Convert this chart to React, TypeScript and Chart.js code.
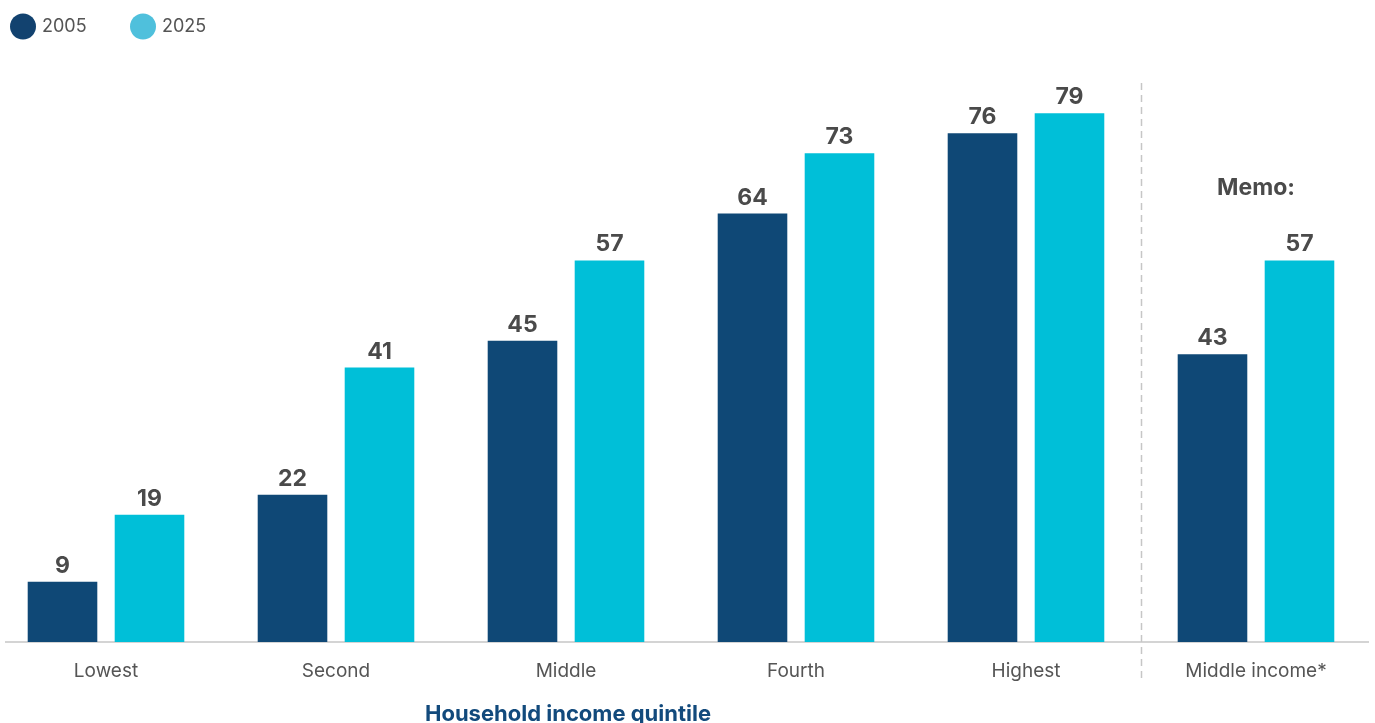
import React, { useEffect, useRef } from "react";
import { Chart, registerables } from "chart.js";

Chart.register(...registerables);

const categories = ["Lowest", "Second", "Middle", "Fourth", "Highest", "Middle income*"];
const seriesNames = ["2005", "2025"];
const values2005 = [9, 22, 45, 64, 76, 43];
const values2025 = [19, 41, 57, 73, 79, 57];
const xAxisTitle = "Household income quintile";
const memoLabel = "Memo:";
const memoIndex = 5;

const DARK = "#0f4876";
const LIGHT = "#00bfd8";
const LEGEND_COLORS = ["#12426f", "#4fc0dc"];
const FONT = "Inter, 'Open Sans', sans-serif";

export default function App() {
  const ref = useRef<HTMLCanvasElement | null>(null);

  useEffect(() => {
    document.body.style.margin = "0";
    const canvas = ref.current;
    if (!canvas) return;

    const overlay = {
      id: "overlay",
      beforeDatasetsDraw(chart: any) {
        const { ctx, scales } = chart;
        const xs = scales.x;
        const sx = Math.round(xs.getPixelForValue(memoIndex - 0.5)) + 0.5;
        ctx.save();
        ctx.strokeStyle = "#c6c6c6";
        ctx.lineWidth = 1.5;
        ctx.setLineDash([7, 5]);
        ctx.beginPath();
        ctx.moveTo(sx, 83);
        ctx.lineTo(sx, 680);
        ctx.stroke();
        ctx.restore();
      },
      afterDatasetsDraw(chart: any) {
        const { ctx, scales } = chart;
        const xs = scales.x;
        ctx.save();
        ctx.fillStyle = "#4a4a4a";
        ctx.font = `bold 23px ${FONT}`;
        ctx.textAlign = "center";
        ctx.textBaseline = "alphabetic";
        chart.data.datasets.forEach((ds: any, di: number) => {
          const meta = chart.getDatasetMeta(di);
          meta.data.forEach((el: any, i: number) => {
            ctx.fillText(String(ds.data[i].y), el.x, el.y - 9);
          });
        });
        // memo label
        ctx.font = `bold 23px ${FONT}`;
        ctx.fillText(memoLabel, xs.getPixelForValue(memoIndex), 195);
        // x title under middle category
        ctx.fillStyle = "#124a7c";
        ctx.font = `bold 22px ${FONT}`;
        ctx.fillText(xAxisTitle, xs.getPixelForValue(2) + 2, 721);
        // legend
        const items = [
          { cx: 23, tx: 42 },
          { cx: 143, tx: 162 },
        ];
        ctx.textAlign = "left";
        ctx.textBaseline = "middle";
        ctx.font = `18px ${FONT}`;
        items.forEach((it, i) => {
          ctx.fillStyle = LEGEND_COLORS[i];
          ctx.beginPath();
          ctx.arc(it.cx, 26.5, 13, 0, Math.PI * 2);
          ctx.fill();
          ctx.fillStyle = "#555555";
          ctx.fillText(seriesNames[i], it.tx, 27);
        });
        ctx.restore();
      },
    };

    const chart = new Chart(canvas, {
      type: "bar",
      data: {
        datasets: [
          {
            label: seriesNames[0],
            data: values2005.map((v, i) => ({ x: i, y: v })),
            backgroundColor: DARK,
          },
          {
            label: seriesNames[1],
            data: values2025.map((v, i) => ({ x: i, y: v })),
            backgroundColor: LIGHT,
          },
        ],
      },
      options: {
        responsive: false,
        maintainAspectRatio: false,
        animation: false,
        devicePixelRatio: 1,
        layout: { padding: { top: 73, left: 6, right: 7, bottom: 0 } },
        datasets: {
          bar: { categoryPercentage: 0.7565, barPercentage: 0.8 },
        },
        plugins: {
          legend: { display: false },
          tooltip: { enabled: false },
        },
        scales: {
          x: {
            type: "linear",
            offset: false,
            min: -0.4348,
            max: 5.487,
            afterBuildTicks(scale: any) {
              scale.ticks = categories.map((_, i) => ({ value: i }));
            },
            afterFit(scale: any) {
              scale.height = 81;
            },
            grid: { display: false, drawTicks: false, offset: false },
            border: { display: true, color: "#d4d4d4", width: 2 },
            ticks: {
              autoSkip: false,
              maxRotation: 0,
              padding: 18,
              color: "#555555",
              font: { family: FONT, size: 19 },
              callback: (v: any) => categories[Number(v)] ?? "",
            },
          },
          y: {
            display: false,
            min: 0,
            max: 85,
          },
        },
      },
      plugins: [overlay],
    });

    return () => chart.destroy();
  }, []);

  return <canvas ref={ref} width={1375} height={723} style={{ display: "block" }} />;
}
